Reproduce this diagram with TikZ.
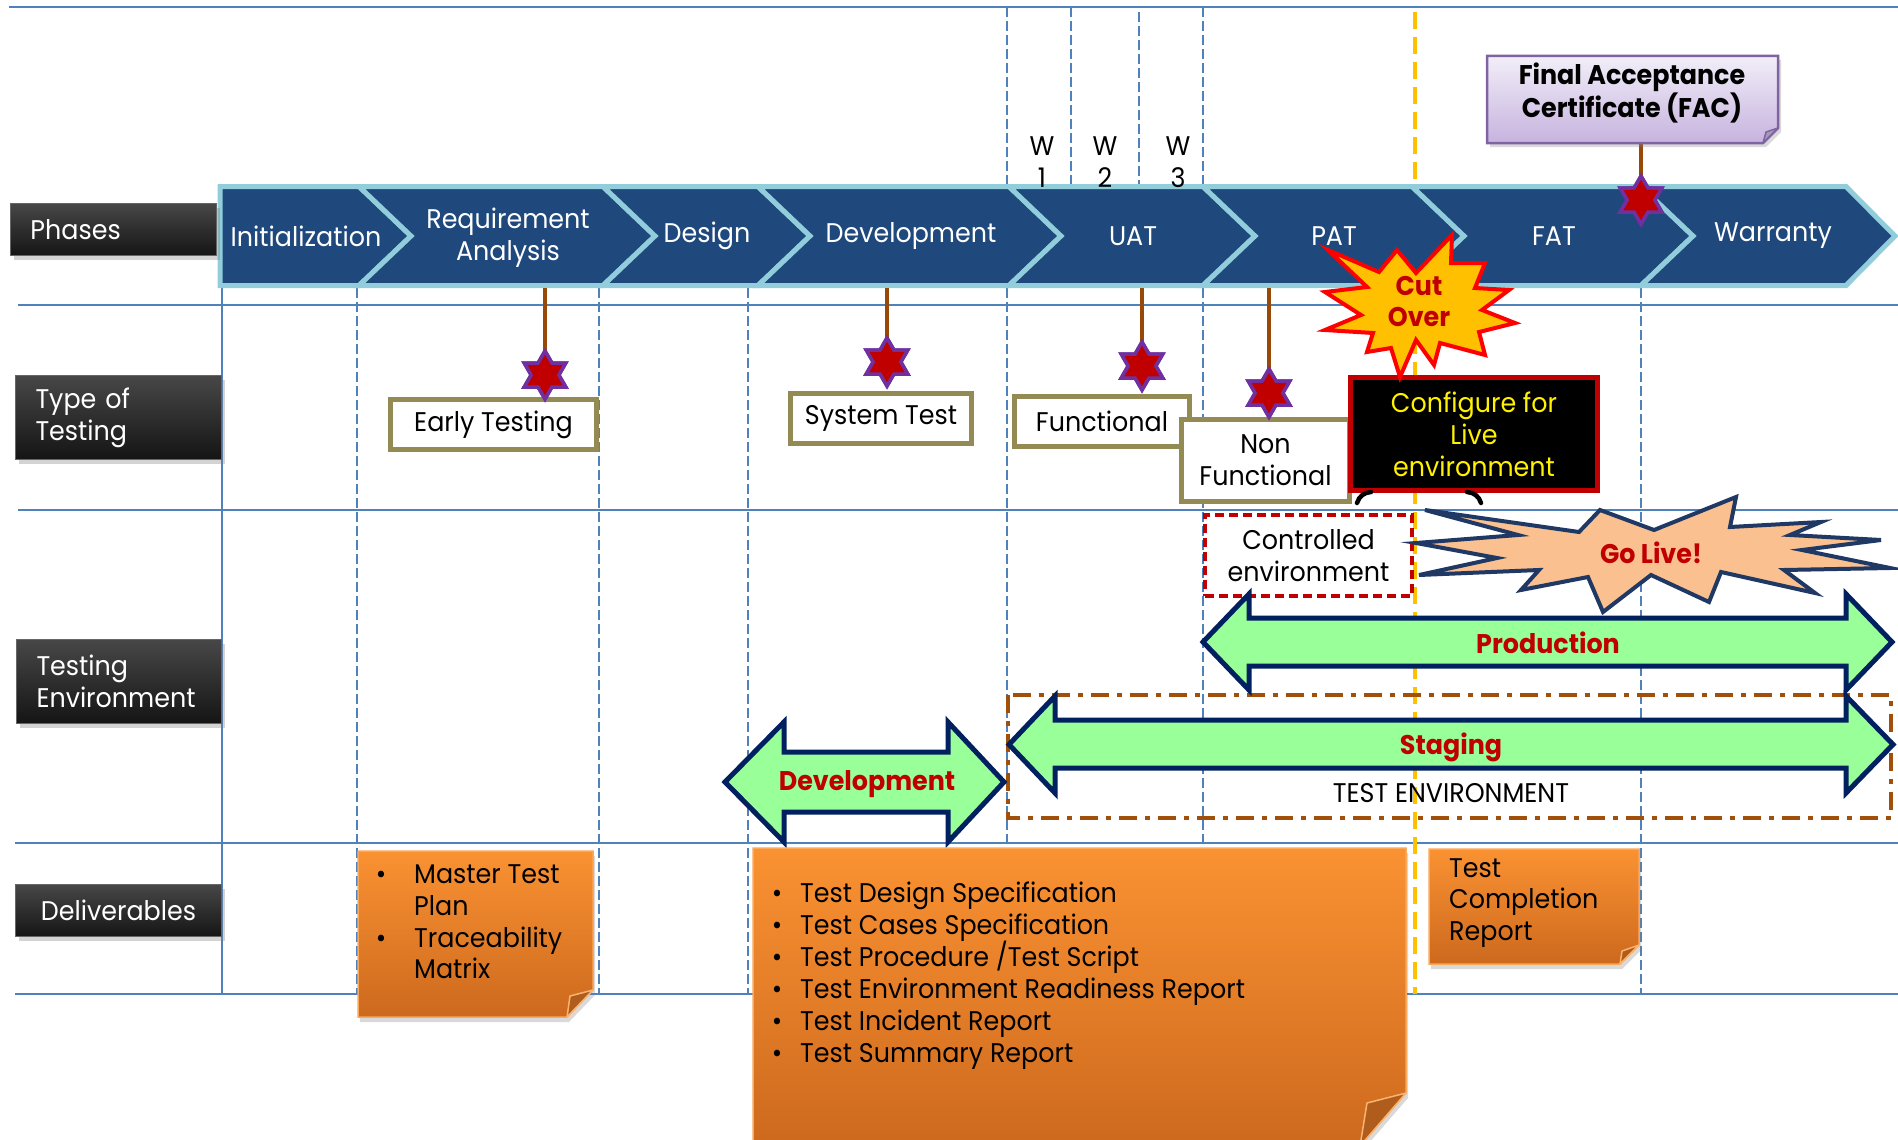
\documentclass[tikz,border=0pt]{standalone}
\usepackage{fontspec}
\setmainfont[FakeStretch=0.94]{Poppins}
\usetikzlibrary{shapes.geometric,shadows}
\definecolor{gridblue}{HTML}{4F81BD}
\definecolor{chevfill}{HTML}{1F497D}
\definecolor{chevline}{HTML}{92CDDC}
\definecolor{starred}{HTML}{C00000}
\definecolor{starpurple}{HTML}{7030A0}
\definecolor{stembrown}{HTML}{984807}
\definecolor{olivebox}{HTML}{948A54}
\definecolor{darkred}{HTML}{C00000}
\definecolor{navy}{HTML}{002060}
\definecolor{arrowgreen}{HTML}{99FF99}
\definecolor{cutyellow}{HTML}{FFC000}
\definecolor{peach}{HTML}{FAC090}
\definecolor{golivenavy}{HTML}{1F3864}
\definecolor{orangetop}{HTML}{FA9232}
\definecolor{orangebot}{HTML}{CD691E}
\definecolor{foldorange}{HTML}{B05C1C}
\definecolor{lavtop}{HTML}{F2EEF8}
\definecolor{lavbot}{HTML}{C6B3DF}
\definecolor{lavline}{HTML}{8064A2}
\definecolor{testbrown}{HTML}{A0500A}
\definecolor{linegold}{HTML}{FFC000}
\newcommand\mainsz{\fontsize{27}{32}\selectfont}
\newcommand\boldsz{\fontsize{27}{31}\selectfont\bfseries}
\tikzset{
  gridline/.style={gridblue, line width=2.5pt},
  griddash/.style={gridblue, line width=1.5pt, dash pattern=on 10pt off 4pt},
  yellowdash/.style={linegold, line width=4pt, dash pattern=on 17pt off 8pt},
  chev/.style={fill=chevfill, draw=chevline, line width=5pt, line join=miter},
  chevtext/.style={text=white, font=\mainsz, align=center, inner sep=0pt},
  labelbox/.style={draw=black!60, line width=1pt, top color=black!72, middle color=black, bottom color=black!92,
    drop shadow={shadow xshift=3pt, shadow yshift=-4pt, opacity=0.35},
    text=white, font=\mainsz, anchor=north west, inner xsep=20pt, inner ysep=0pt},
  typebox/.style={draw=olivebox, line width=5pt, fill=white, inner sep=0pt, font=\mainsz, align=center},
  hexstar/.style={star, star points=6, star point ratio=1.732, minimum size=48pt, inner sep=0pt,
    fill=starred, draw=starpurple, line width=3.5pt},
  stem/.style={stembrown, line width=4pt},
  dblarrow/.style={fill=arrowgreen, draw=navy, line width=5pt, line join=miter},
  arrowtext/.style={text=darkred, font=\boldsz, inner sep=0pt},
  orangebox/.style={top color=orangetop, bottom color=orangebot, draw=orangetop!80!white, line width=1.5pt,
    drop shadow={shadow xshift=2pt, shadow yshift=-5pt, opacity=0.3}},
  foldtri/.style={fill=foldorange, draw=orangetop!70!white, line width=1.5pt, line join=round},
  deltext/.style={font=\mainsz, anchor=base west, inner sep=0pt},
  bul/.style={font=\mainsz, anchor=base, inner sep=0pt},
}
\begin{document}
\begin{tikzpicture}[x=1pt,y=-1pt]
\useasboundingbox (0,0) rectangle (1898,1140);
% ---------- grid ----------
\draw[gridline] (9,7) -- (1898,7);
\draw[gridline] (18,305) -- (1898,305);
\draw[gridline] (18,510) -- (1898,510);
\draw[gridline] (15,843) -- (1898,843);
\draw[gridline] (15,994) -- (1898,994);
\draw[gridline] (222,288) -- (222,994);
\foreach \xx in {357,599,748,1007,1203,1641} \draw[griddash] (\xx,288) -- (\xx,994);
\foreach \xx/\yy in {1007/7,1071/7,1139/12,1203/7} \draw[griddash] (\xx,\yy) -- (\xx,184);
\coordinate (cuttop) at (1415,12);
\coordinate (cutbot) at (1415,994);
\draw[yellowdash] (cuttop) -- (cutbot);
% ---------- phase bar ----------
\draw[chev] (220,186.5) -- (359,186.5) -- (411,236) -- (359,285.5) -- (220,285.5) -- cycle;
\draw[chev] (359,186.5) -- (603,186.5) -- (655,236) -- (603,285.5) -- (359,285.5) -- (411,236) -- cycle;
\draw[chev] (603,186.5) -- (758,186.5) -- (810,236) -- (758,285.5) -- (603,285.5) -- (655,236) -- cycle;
\draw[chev] (758,186.5) -- (1009,186.5) -- (1061,236) -- (1009,285.5) -- (758,285.5) -- (810,236) -- cycle;
\draw[chev] (1009,186.5) -- (1203,186.5) -- (1255,236) -- (1203,285.5) -- (1009,285.5) -- (1061,236) -- cycle;
\draw[chev] (1203,186.5) -- (1412,186.5) -- (1464,236) -- (1412,285.5) -- (1203,285.5) -- (1255,236) -- cycle;
\draw[chev] (1412,186.5) -- (1641,186.5) -- (1693,236) -- (1641,285.5) -- (1412,285.5) -- (1464,236) -- cycle;
\draw[chev] (1641,186.5) -- (1846,186.5) -- (1895,236) -- (1846,285.5) -- (1641,285.5) -- (1693,236) -- cycle;
\node[chevtext] (pinit) at (306,236) {Initialization};
\node[chevtext] (preq) at (508,238) {Requirement\\Analysis};
\node[chevtext] (pdes) at (707,236) {Design};
\node[chevtext] (pdev) at (911,236) {Development};
\node[chevtext] (puat) at (1133,236) {UAT};
\node[chevtext] (ppat) at (1334,236) {PAT};
\node[chevtext] (pfat) at (1554,236) {FAT};
\node[chevtext] (pwar) at (1773,236) {Warranty};
% ---------- weeks ----------
\node[font=\mainsz, align=center, inner sep=0pt] (w1) at (1042,162) {W\\1};
\node[font=\mainsz, align=center, inner sep=0pt] (w2) at (1105,162) {W\\2};
\node[font=\mainsz, align=center, inner sep=0pt] (w3) at (1178,162) {W\\3};
% ---------- FAC ----------
\coordinate (facfoot) at (1641,143);
\node[hexstar] (facstar) at (1641,200) {};
\draw[stem] (facfoot) -- (facstar.center);
\path[top color=lavtop, bottom color=lavbot, draw=lavline, line width=2.5pt,
  drop shadow={shadow xshift=3pt, shadow yshift=-4pt, opacity=0.3}]
  (1487,56) -- (1778,56) -- (1778,128) -- (1763,143) -- (1487,143) -- cycle;
\draw[fill=lavbot!85!black, draw=lavline, line width=1.5pt, line join=round] (1778,128) -- (1763,143) -- (1766,132) -- cycle;
\node[font=\boldsz, align=center, inner sep=0pt] (fac) at (1632,93) {Final Acceptance\\Certificate (FAC)};
\node[hexstar] (facstar2) at (1641,200) {};
% ---------- row labels ----------
\node[labelbox, minimum width=206pt, minimum height=52pt, text width=166pt, align=left] (lphase) at (10,203) {Phases};
\node[labelbox, minimum width=206pt, minimum height=84pt, text width=166pt, align=left] (ltype) at (15,375) {Type of\\Testing};
\node[labelbox, minimum width=205pt, minimum height=84pt, text width=165pt, align=left] (lenv) at (16,639) {Testing\\Environment};
\node[labelbox, minimum width=206pt, minimum height=52pt, text width=166pt, align=center] (ldel) at (15,884) {Deliverables};
% ---------- type of testing ----------
\coordinate (s1top) at (545,288);
\coordinate (s2top) at (887,288);
\coordinate (s3top) at (1142,288);
\coordinate (s4top) at (1269,288);
\node[typebox, minimum width=206pt, minimum height=50pt] (early) at (493.5,424.5) {Early Testing};
\node[typebox, minimum width=181pt, minimum height=50pt] (systest) at (881,418.5) {System Test};
\node[typebox, minimum width=175pt, minimum height=50pt] (func) at (1102,421.5) {Functional};
\node[typebox, minimum width=168pt, minimum height=82pt] (nonfunc) at (1265.5,460.5) {Non\\Functional};
\node[hexstar] (st1) at (545,375) {};
\node[hexstar] (st2) at (887,362) {};
\node[hexstar] (st3) at (1142,366) {};
\node[hexstar] (st4) at (1269,393) {};
\draw[stem] (s1top) -- (st1.center);
\draw[stem] (s2top) -- (st2.center);
\draw[stem] (s3top) -- (st3.center);
\draw[stem] (s4top) -- (st4.center);
\node[hexstar] (st1b) at (545,375) {};
\node[hexstar] (st2b) at (887,362) {};
\node[hexstar] (st3b) at (1142,366) {};
\node[hexstar] (st4b) at (1269,393) {};
% configure box
\node[draw=darkred, fill=black, line width=5pt, minimum width=247pt, minimum height=113pt, inner sep=0pt,
  text=yellow, font=\mainsz, align=center] (config) at (1474,434) {Configure for\\Live\\environment};
\draw[black, line width=4.5pt, line cap=round] (1371,492) to[bend right=35] (1357,503);
\draw[black, line width=4.5pt, line cap=round] (1467,492) to[bend left=35] (1481,503);
% cut over
\draw[fill=cutyellow, draw=red, line width=4pt, line join=miter]
  (1452,235) -- (1451,263) -- (1485,263) -- (1475,288) -- (1509,290) -- (1482,310) -- (1515,323)
  -- (1479,332) -- (1485,355) -- (1440,343) -- (1434,365) -- (1416,340) -- (1400,377) -- (1391,348)
  -- (1367,352) -- (1373,333) -- (1325,330) -- (1361,315) -- (1325,292) -- (1367,287) -- (1328,250)
  -- (1379,272) -- (1397,250) -- (1416,273) -- cycle;
\node[text=darkred, font=\boldsz, align=center, inner sep=0pt] (cutover) at (1419,302) {Cut\\Over};
% ---------- testing environment ----------
\node[draw=darkred, fill=white, line width=4pt, dash pattern=on 9pt off 5pt, minimum width=207pt, minimum height=81pt,
  inner sep=0pt, font=\mainsz, align=center] (ctrl) at (1308.5,555.5) {Controlled\\environment};
\draw[fill=peach, draw=golivenavy, line width=4pt, line join=miter]
  (1425,510) -- (1518,535) -- (1416,543) -- (1497,558) -- (1419,575) -- (1539,570) -- (1521,590)
  -- (1588,577) -- (1603,612) -- (1651,575) -- (1709,602) -- (1721,572) -- (1815,593) -- (1784,570)
  -- (1890,568) -- (1802,550) -- (1881,540) -- (1790,535) -- (1821,522) -- (1730,527) -- (1736,497)
  -- (1654,530) -- (1600,510) -- (1579,532) -- cycle;
\node[text=darkred, font=\boldsz, inner sep=0pt] (golive) at (1651,553) {Go Live!};
% test environment frame
\draw[testbrown, line width=4pt, dash pattern=on 18pt off 8pt on 5pt off 8pt] (1008,695) rectangle (1891,818);
\node[font=\mainsz, inner sep=0pt] (testenv) at (1451,793) {TEST ENVIRONMENT};
% production
\draw[dblarrow] (1203,642) -- (1249,594) -- (1249,618) -- (1846,618) -- (1846,594) -- (1892,642)
  -- (1846,690) -- (1846,666) -- (1249,666) -- (1249,690) -- cycle;
\node[arrowtext] (prod) at (1548,643) {Production};
% staging
\draw[dblarrow] (1009,744.5) -- (1055,696) -- (1055,720) -- (1846,720) -- (1846,696) -- (1893,744.5)
  -- (1846,793) -- (1846,768) -- (1055,768) -- (1055,793) -- cycle;
\node[arrowtext] (stag) at (1451,747) {Staging};
% development
\draw[dblarrow] (725,782) -- (784,722) -- (784,752) -- (948,752) -- (948,722) -- (1004,782)
  -- (948,842) -- (948,812) -- (784,812) -- (784,842) -- cycle;
\node[arrowtext] (devenv) at (867,784) {Development};
% ---------- deliverables ----------
\path[orangebox] (358,851) -- (593,851) -- (593,990) -- (567,1017) -- (358,1017) -- cycle;
\draw[foldtri] (593,990) -- (567,1017) -- (570,996) -- cycle;
\node[bul] (mb1) at (381,883) {\textbullet};
\node[deltext] (m1) at (414,883) {Master Test};
\node[deltext] (m2) at (414,915) {Plan};
\node[bul] (mb2) at (381,947) {\textbullet};
\node[deltext] (m3) at (414,947) {Traceability};
\node[deltext] (m4) at (414,978) {Matrix};
\path[orangebox] (753,848) -- (1406,848) -- (1406,1093) -- (1360,1146) -- (753,1146) -- cycle;
\draw[foldtri] (1406,1093) -- (1360,1146) -- (1367,1103) -- cycle;
\foreach \yy/\dtext [count=\i] in {902/{Test Design Specification}, 934/{Test Cases Specification}, 966/{Test Procedure /Test Script},
  998/{Test Environment Readiness Report}, 1030/{Test Incident Report}, 1062/{Test Summary Report}}{
  \node[bul] (db\i) at (777,\yy) {\textbullet};
  \node[deltext] (d\i) at (800,\yy) {\dtext};
}
\path[orangebox] (1429,849) -- (1639,849) -- (1639,945) -- (1620,964) -- (1429,964) -- cycle;
\draw[foldtri] (1639,945) -- (1620,964) -- (1622,951) -- cycle;
\node[deltext] (t1) at (1449,877) {Test};
\node[deltext] (t2) at (1449,908) {Completion};
\node[deltext] (t3) at (1449,940) {Report};
\end{tikzpicture}
\end{document}
